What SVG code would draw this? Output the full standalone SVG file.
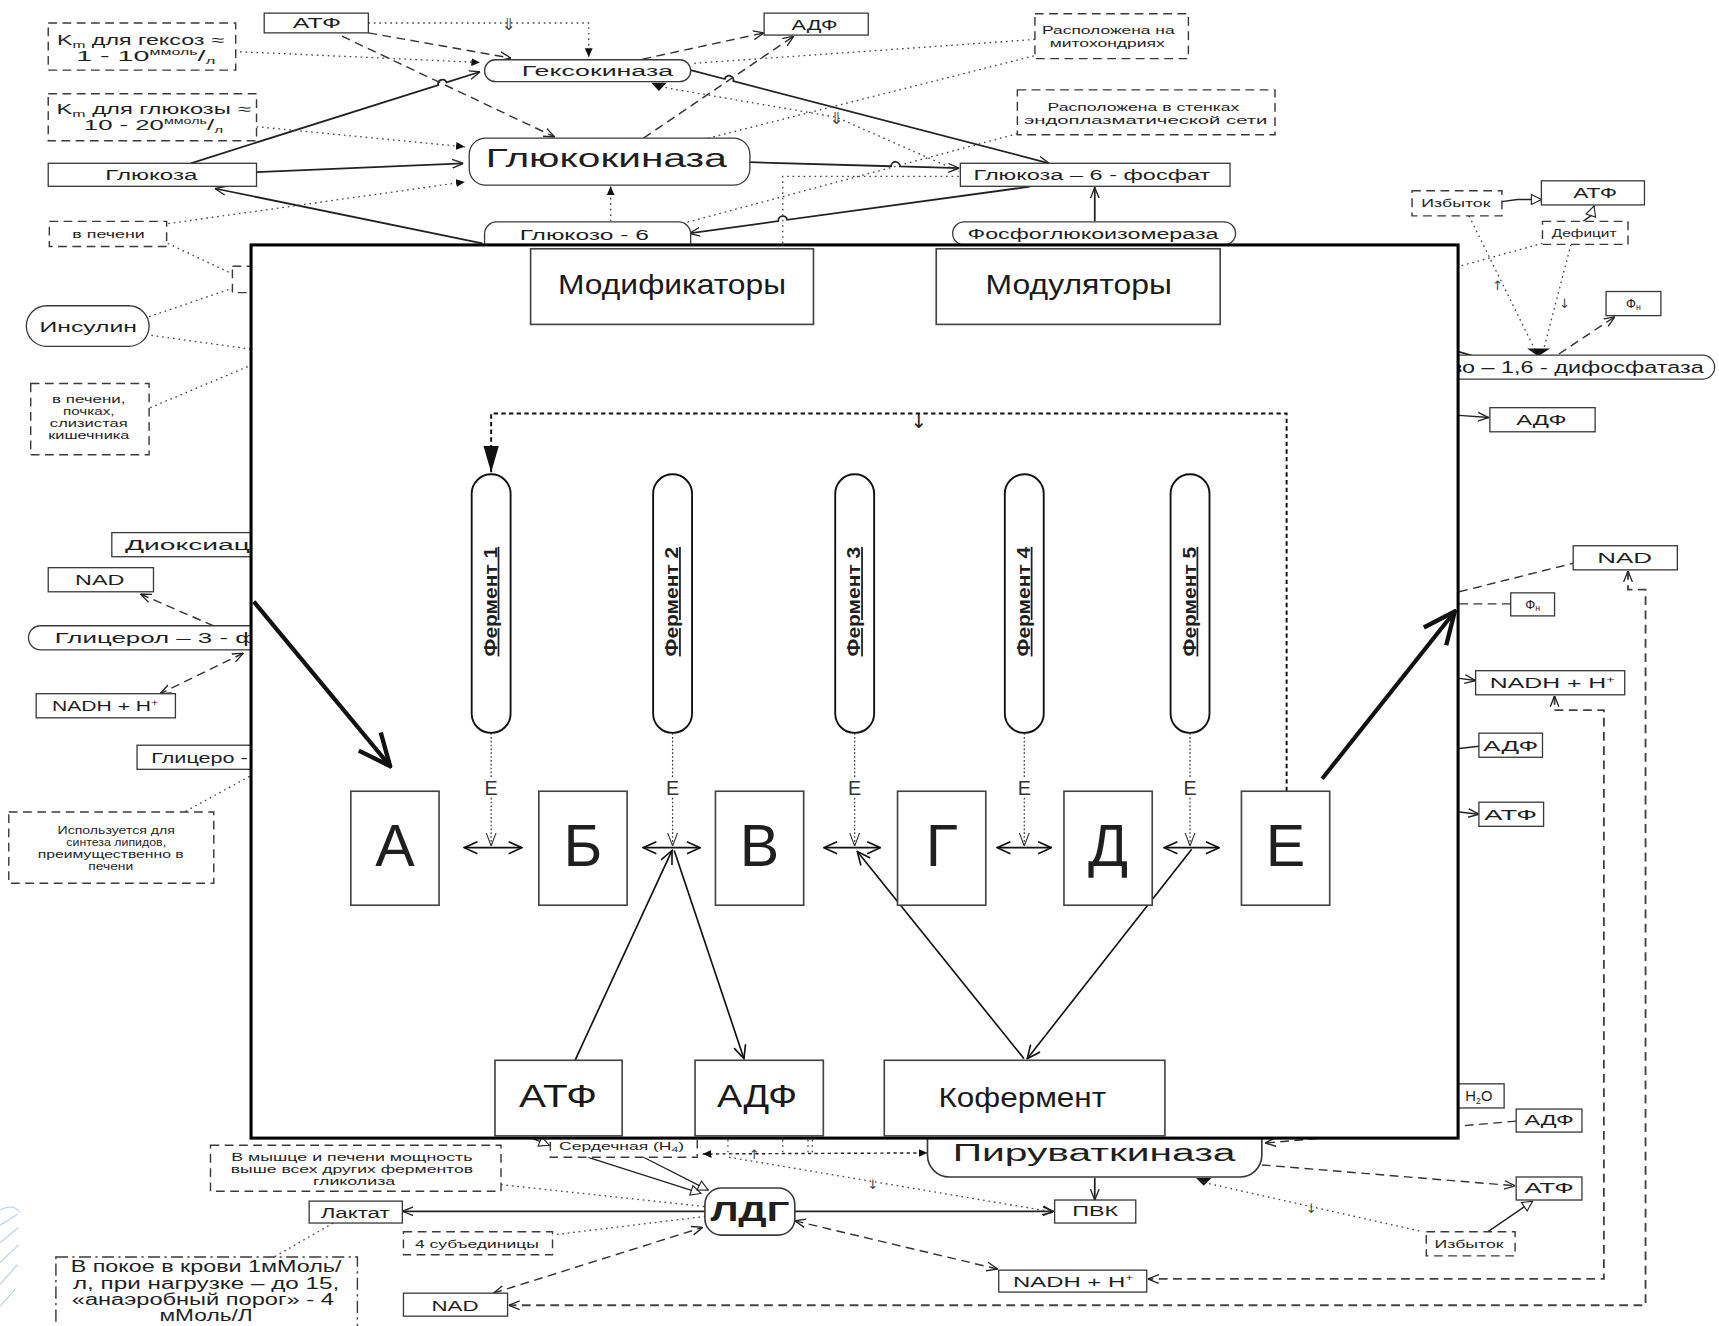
<svg xmlns="http://www.w3.org/2000/svg" width="1719" height="1326" viewBox="0 0 1719 1326">
<defs>
<style>
.b{fill:#fff;stroke:#3a3a3a;stroke-width:1.2}
.db{fill:#fff;stroke:#3a3a3a;stroke-width:1.3;stroke-dasharray:8 5}
.ddb{fill:#fff;stroke:#3a3a3a;stroke-width:1.3;stroke-dasharray:11 4 2 4}
.t{font-family:"Liberation Sans",Arial,sans-serif;fill:#1f1f1f;text-anchor:middle}
.ts{font-family:"Liberation Sans",Arial,sans-serif;fill:#1f1f1f;text-anchor:start}
.n{font-family:"Liberation Sans Narrow","Liberation Sans",Arial,sans-serif;fill:#1a1a1a;text-anchor:middle}
.ar{font-family:"DejaVu Sans",sans-serif;fill:#444;text-anchor:middle}
.s{fill:none;stroke:#222;stroke-width:1.6}
.d{fill:none;stroke:#333;stroke-width:1.3;stroke-dasharray:8 5}
.dl{fill:none;stroke:#444;stroke-width:1.7;stroke-dasharray:8 5}
.o{fill:none;stroke:#444;stroke-width:1.2;stroke-dasharray:1.5 3.5}
.ob{fill:#fff;stroke:#444;stroke-width:1.5}
.ol{fill:none;stroke:#111;stroke-width:1.5}
.od{fill:none;stroke:#333;stroke-width:1.1;stroke-dasharray:1.5 2}
.lp{fill:none;stroke:#111;stroke-width:1.8;stroke-dasharray:4 3}
.big{fill:none;stroke:#111;stroke-width:3.8}
</style>
<marker id="ao" viewBox="0 0 10 10" refX="10" refY="5" markerWidth="10" markerHeight="10" markerUnits="userSpaceOnUse" orient="auto-start-reverse"><path d="M0,1 L10,5 L0,9" fill="none" stroke="#222" stroke-width="1.2"/></marker>
<marker id="ao2" viewBox="0 0 14 14" refX="13" refY="7" markerWidth="14" markerHeight="14" markerUnits="userSpaceOnUse" orient="auto-start-reverse"><path d="M1,1.5 L13,7 L1,12.5" fill="none" stroke="#111" stroke-width="1.5"/></marker>
<marker id="aoS" viewBox="0 0 12 12" refX="12" refY="6" markerWidth="12" markerHeight="12" markerUnits="userSpaceOnUse" orient="auto"><path d="M0,1.5 L12,6 L0,10.5" fill="none" stroke="#333" stroke-width="1"/></marker>
<marker id="af" viewBox="0 0 10 10" refX="10" refY="5" markerWidth="8" markerHeight="8" markerUnits="userSpaceOnUse" orient="auto-start-reverse"><path d="M0,0.5 L10,5 L0,9.5Z" fill="#111"/></marker>
<marker id="afL" viewBox="0 0 24 14" refX="24" refY="7" markerWidth="24" markerHeight="14" markerUnits="userSpaceOnUse" orient="auto"><path d="M0,0 L24,7 L0,14Z" fill="#111"/></marker>
<marker id="ah" viewBox="0 0 12 12" refX="11" refY="6" markerWidth="11" markerHeight="11" markerUnits="userSpaceOnUse" orient="auto"><path d="M1,1 L11,6 L1,11Z" fill="#fff" stroke="#222" stroke-width="1.1"/></marker>
<marker id="big" viewBox="0 0 34 34" refX="32" refY="17" markerWidth="34" markerHeight="34" markerUnits="userSpaceOnUse" orient="auto"><path d="M3,4 L32,17 L3,30" fill="none" stroke="#111" stroke-width="4"/></marker>
</defs>
<rect width="1719" height="1326" fill="#fff"/>
<g transform="scale(1.0963 1.0959)">

<g id="decor" fill="none" stroke="#b9cfe3" stroke-width="1">
<path d="M0,1104 Q12,1098 18,1106"/>
<path d="M0,1118 L16,1108"/>
<path d="M0,1134 L17,1120"/>
<path d="M0,1152 L17,1136"/>
<path d="M0,1172 L16,1154"/>
<path d="M0,1192 L14,1176"/>
</g>

<g id="connectors">
<path class="s" d="M174,149 L399.7,77.6 A4,4 0 0 1 407.3,75.2 L438,65.5" marker-end="url(#ao)"/>
<path class="s" d="M234,157 L422.6,149" marker-end="url(#ao)"/>
<path class="s" d="M440,222 L196,172" marker-end="url(#ao)"/>
<path class="s" d="M630,64 L661.1,72.1 A4,4 0 0 1 668.9,74.1 L957,149" marker-end="url(#ao)"/>
<path class="s" d="M684,148 L812.8,151.7 A4,4 0 0 1 820.8,151.9 L875,153.5" marker-end="url(#ao)"/>
<path class="s" d="M939.3,170.3 L718,200.6 A4,4 0 0 0 710,201.7 L628.5,212.9" marker-end="url(#ao)"/>
<path class="s" d="M998.6,202 L998.6,171" marker-end="url(#ao)"/>
<path class="d" d="M336,30 L466,53" marker-end="url(#ao)"/>
<path class="d" d="M312,33 L506,125" marker-end="url(#ao)"/>
<path class="d" d="M586,54 L697,30" marker-end="url(#ao)"/>
<path class="d" d="M587,126 L724,33" marker-end="url(#ao)"/>
<path class="o" d="M336,21 L537,21 L537,52" marker-end="url(#af)"/>
<text class="ar" x="464" y="27" font-size="15">⇓</text>
<path class="o" d="M214,47 L438,57" marker-end="url(#af)"/>
<path class="o" d="M234,115.6 L424,134" marker-end="url(#af)"/>
<path class="o" d="M153.5,204 L424,166" marker-end="url(#af)"/>
<path class="o" d="M944,36 L630,58"/>
<path class="o" d="M943,51 L646,126"/>
<path class="o" d="M928,122 L626,203"/>
<polygon points="594,75.5 608,75.5 601,83" fill="#111"/>
<path class="o" d="M607,80 L763,107 L875,156.5"/>
<text class="ar" x="763" y="113" font-size="15">⇓</text>
<path class="o" d="M714,222 L714,161 L876,161"/>
<path class="o" d="M557,202 L557,170" marker-end="url(#af)"/>
<path class="o" d="M153,222 L212,250"/>
<path class="o" d="M136,289 L212,263"/>
<path class="o" d="M138,306 L232,319"/>
<path class="o" d="M137,372 L232,332"/>
<path class="o" d="M232,706 L168,741"/>
<path class="d" d="M128,542 L222,583" marker-start="url(#ao)" marker-end="url(#ao)"/>
<path class="d" d="M222,596 L146,633" marker-start="url(#ao)" marker-end="url(#ao)"/>
<path class="s" style="stroke-width:1.3" d="M1370,184 L1384,182 L1406,182" marker-end="url(#ah)"/>
<path class="s" style="stroke-width:1.3" d="M1444,202 L1451,197 L1454,188" marker-end="url(#ah)"/>
<path class="o" d="M1340,197 L1400,319"/>
<text class="ar" x="1366" y="265" font-size="12">↑</text>
<path class="o" d="M1433,223 L1408,319"/>
<text class="ar" x="1427" y="281" font-size="12">↓</text>
<polygon points="1393,318 1414,318 1403,325" fill="#111"/>
<path class="o" d="M1407,222 L1331,243"/>
<path class="d" d="M1422,323 L1473,289" marker-end="url(#ao)"/>
<path class="s" d="M1331,321 L1348,326"/>
<path class="s" style="stroke-width:1.3" d="M1331,379 L1358,381" marker-end="url(#ao)"/>
<path class="d" d="M1331,540 L1435,514"/>
<path class="d" d="M1331,551 L1378,551"/>
<path class="s" style="stroke-width:1.3" d="M1331,619 L1346,621" marker-end="url(#ao)"/>
<path class="s" style="stroke-width:1.3" d="M1331,683 L1349,681"/>
<path class="s" style="stroke-width:1.3" d="M1331,741 L1349,743" marker-end="url(#ao)"/>
<path class="dl" d="M1485,521 L1485,538 L1501,538 L1501,1191 L464,1191" marker-start="url(#ao)" marker-end="url(#ao)"/>
<path class="dl" d="M1418,635 L1418,648 L1463,648 L1463,1167 L1047,1167" marker-start="url(#ao)" marker-end="url(#ao)"/>
<path class="s" d="M998.6,1075 L998.6,1095" marker-end="url(#ao)"/>
<path class="s" d="M725,1105.3 L961,1105.3" marker-end="url(#ao)"/>
<path class="s" d="M643,1105.3 L367,1105.3" marker-end="url(#ao)"/>
<path class="d" d="M725,1114 L910,1158" marker-start="url(#ao)" marker-end="url(#ao)"/>
<path class="d" d="M450,1180 L641,1120" marker-start="url(#ao)" marker-end="url(#ao)"/>
<path class="s" style="stroke-width:1.2" d="M536.5,1056 L639.4,1089" marker-end="url(#ah)"/>
<path class="s" style="stroke-width:1.2" d="M587,1056 L646,1086" marker-end="url(#ah)"/>
<path class="s" style="stroke-width:1.2" d="M486,1039 L501,1045" marker-end="url(#ah)"/>
<path fill="none" stroke="#222" stroke-width="1.3" stroke-dasharray="3 3" d="M641,1053 L846,1052" marker-start="url(#af)" marker-end="url(#af)"/>
<text class="ar" x="688" y="1058" font-size="12">↑</text>
<path class="o" d="M664,1040 V1055 M714,1040 V1053 M737,1040 V1053 M741,1040 V1053"/>
<path class="o" d="M665,1056 L961,1106" marker-end="url(#ao)"/>
<text class="ar" x="796" y="1085" font-size="12">↓</text>
<path class="o" d="M457,1081 L643,1101"/>
<path class="o" d="M503,1127 L643,1110"/>
<path class="o" d="M304,1116 L250,1147"/>
<path class="d" d="M1151,1063 L1382,1082" marker-end="url(#ao)"/>
<path class="d" d="M1383,1023 L1154,1043" marker-end="url(#ao)"/>
<polygon points="1091,1075 1105,1075 1098,1082" fill="#111"/>
<path class="o" d="M1098,1079 L1298,1124"/>
<text class="ar" x="1196" y="1107" font-size="12">↓</text>
<path class="s" style="stroke-width:1.3" d="M1357,1124 L1398,1096" marker-end="url(#ah)"/>
</g>

<g id="n-atf1"><rect class="b" x="241" y="12" width="95" height="18"/><text class="t" x="289" y="26" font-size="13" textLength="44" lengthAdjust="spacingAndGlyphs">АТФ</text></g>
<g id="n-adf1"><rect class="b" x="697" y="12" width="95" height="20"/><text class="t" x="743" y="27" font-size="13" textLength="42" lengthAdjust="spacingAndGlyphs">АДФ</text></g>
<g id="n-km1"><rect class="db" x="44" y="21" width="171" height="43"/>
<text class="t" x="128" y="41" font-size="13.5" textLength="152" lengthAdjust="spacingAndGlyphs">K<tspan font-size="9" dy="3">m</tspan><tspan dy="-3"> для гексоз ≈</tspan></text>
<text class="t" x="133" y="56" font-size="13.5" textLength="127" lengthAdjust="spacingAndGlyphs">1 - 10<tspan font-size="7.5" dy="-6">ммоль</tspan><tspan dy="6">/</tspan><tspan font-size="8" dy="2">л</tspan></text></g>
<g id="n-hexokinase"><rect class="b" x="442" y="54.5" width="188" height="20" rx="10"/><text class="t" x="545" y="69" font-size="13.5" textLength="138" lengthAdjust="spacingAndGlyphs">Гексокиназа</text></g>
<g id="n-mito"><rect class="db" x="944" y="12.5" width="140" height="41"/><text class="t" x="1011" y="31" font-size="10" textLength="121" lengthAdjust="spacingAndGlyphs">Расположена на</text><text class="t" x="1010" y="42.5" font-size="10" textLength="105" lengthAdjust="spacingAndGlyphs">митохондриях</text></g>
<g id="n-km2"><rect class="db" x="44" y="85.5" width="190" height="43"/>
<text class="t" x="140" y="104" font-size="13.5" textLength="177" lengthAdjust="spacingAndGlyphs">K<tspan font-size="9" dy="3">m</tspan><tspan dy="-3"> для глюкозы ≈</tspan></text>
<text class="t" x="140" y="119" font-size="13.5" textLength="127" lengthAdjust="spacingAndGlyphs">10 - 20<tspan font-size="7.5" dy="-6">ммоль</tspan><tspan dy="6">/</tspan><tspan font-size="8" dy="2">л</tspan></text></g>
<g id="n-er"><rect class="db" x="928" y="82" width="235" height="41"/><text class="t" x="1043" y="101" font-size="10" textLength="175" lengthAdjust="spacingAndGlyphs">Расположена в стенках</text><text class="t" x="1045" y="113" font-size="10" textLength="222" lengthAdjust="spacingAndGlyphs">эндоплазматической сети</text></g>
<g id="n-glucokinase"><rect class="b" x="428" y="126" width="256" height="43" rx="15"/><text class="t" x="553" y="152.5" font-size="24" textLength="220" lengthAdjust="spacingAndGlyphs">Глюкокиназа</text></g>
<g id="n-glucose"><rect class="b" x="44" y="149" width="190" height="21"/><text class="t" x="138" y="164.5" font-size="13.5" textLength="84" lengthAdjust="spacingAndGlyphs">Глюкоза</text></g>
<g id="n-g6p"><rect class="b" x="876" y="149" width="246" height="21"/><text class="t" x="996" y="164.5" font-size="14" textLength="216" lengthAdjust="spacingAndGlyphs">Глюкоза – 6 - фосфат</text></g>
<g id="n-liver1"><rect class="db" x="45" y="202" width="107" height="23"/><text class="t" x="99" y="217" font-size="10" textLength="66" lengthAdjust="spacingAndGlyphs">в печени</text></g>
<g id="n-g6pase"><rect class="b" x="442" y="202.5" width="188" height="44" rx="11"/><text class="t" x="533" y="219" font-size="14" textLength="118" lengthAdjust="spacingAndGlyphs">Глюкозо -  6</text></g>
<g id="n-pgi"><rect class="b" x="869" y="202.5" width="258" height="21" rx="10.5"/><text class="t" x="997" y="218.5" font-size="14" textLength="229" lengthAdjust="spacingAndGlyphs">Фосфоглюкоизомераза</text></g>
<g id="n-smallbox"><rect class="db" x="212" y="243" width="40" height="24"/></g>
<g id="n-insulin"><rect class="b" x="24" y="279" width="112" height="37" rx="18.5"/><text class="t" x="80.5" y="303" font-size="14" textLength="89" lengthAdjust="spacingAndGlyphs">Инсулин</text></g>
<g id="n-organs"><rect class="db" x="28" y="350" width="108" height="65"/>
<text class="t" x="81" y="368" font-size="9.5" textLength="67" lengthAdjust="spacingAndGlyphs">в печени,</text>
<text class="t" x="81" y="379" font-size="9.5" textLength="47" lengthAdjust="spacingAndGlyphs">почках,</text>
<text class="t" x="81" y="390" font-size="9.5" textLength="71" lengthAdjust="spacingAndGlyphs">слизистая</text>
<text class="t" x="81" y="401" font-size="9.5" textLength="74" lengthAdjust="spacingAndGlyphs">кишечника</text></g>
<g id="n-dioxy"><rect class="b" x="102" y="486" width="150" height="22"/><text class="ts" x="114" y="502" font-size="14" textLength="114" lengthAdjust="spacingAndGlyphs">Диоксиац</text></g>
<g id="n-nad1"><rect class="b" x="44" y="518" width="96" height="22"/><text class="t" x="91" y="534" font-size="13.5" textLength="45" lengthAdjust="spacingAndGlyphs">NAD</text></g>
<g id="n-g3p"><rect class="b" x="26" y="571" width="226" height="22" rx="11"/><text class="ts" x="50" y="587" font-size="14" textLength="184" lengthAdjust="spacingAndGlyphs">Глицерол – 3 - ф</text></g>
<g id="n-nadh1"><rect class="b" x="33" y="633" width="127" height="22"/><text class="t" x="96" y="649" font-size="13.5" textLength="97" lengthAdjust="spacingAndGlyphs">NADH + H<tspan font-size="8" dy="-5">+</tspan></text></g>
<g id="n-glycero"><rect class="b" x="125" y="680" width="127" height="22"/><text class="ts" x="138" y="696" font-size="14" textLength="88" lengthAdjust="spacingAndGlyphs">Глицеро -</text></g>
<g id="n-lipids"><rect class="db" x="8" y="741" width="187" height="65"/>
<text class="t" x="106" y="761" font-size="10" textLength="107" lengthAdjust="spacingAndGlyphs">Используется для</text>
<text class="t" x="106" y="772" font-size="10" textLength="91" lengthAdjust="spacingAndGlyphs">синтеза липидов,</text>
<text class="t" x="101" y="783" font-size="10" textLength="133" lengthAdjust="spacingAndGlyphs">преимущественно в</text>
<text class="t" x="101" y="794" font-size="10" textLength="41" lengthAdjust="spacingAndGlyphs">печени</text></g>
<g id="n-excess1"><rect class="db" x="1288" y="174" width="82" height="23"/><text class="t" x="1328" y="189" font-size="10" textLength="63" lengthAdjust="spacingAndGlyphs">Избыток</text></g>
<g id="n-atf2"><rect class="b" x="1406" y="165" width="94" height="22"/><text class="t" x="1455" y="181" font-size="13.5" textLength="40" lengthAdjust="spacingAndGlyphs">АТФ</text></g>
<g id="n-deficit"><rect class="db" x="1407" y="202" width="78" height="21"/><text class="t" x="1445" y="216" font-size="10" textLength="59" lengthAdjust="spacingAndGlyphs">Дефицит</text></g>
<g id="n-fn1"><rect class="b" x="1465" y="266" width="50" height="22"/><text class="t" x="1490" y="281" font-size="12">Ф<tspan font-size="8" dy="2">н</tspan></text></g>
<g id="n-fbpase"><rect class="b" x="1290" y="324" width="274" height="22" rx="11"/><text class="ts" x="1324" y="340" font-size="14.5" textLength="230" lengthAdjust="spacingAndGlyphs">зо – 1,6 - дифосфатаза</text></g>
<g id="n-adf2"><rect class="b" x="1359" y="372" width="96" height="22"/><text class="t" x="1406" y="388" font-size="13.5" textLength="46" lengthAdjust="spacingAndGlyphs">АДФ</text></g>
<g id="n-nad2"><rect class="b" x="1435" y="498" width="95" height="22"/><text class="t" x="1482" y="514" font-size="13.5" textLength="50" lengthAdjust="spacingAndGlyphs">NAD</text></g>
<g id="n-fn2"><rect class="b" x="1378" y="541" width="40" height="21"/><text class="t" x="1398" y="556" font-size="12">Ф<tspan font-size="8" dy="2">н</tspan></text></g>
<g id="n-nadh2"><rect class="b" x="1346" y="612" width="136" height="22"/><text class="t" x="1416" y="628" font-size="13.5" textLength="114" lengthAdjust="spacingAndGlyphs">NADH + H<tspan font-size="8" dy="-5">+</tspan></text></g>
<g id="n-adf3"><rect class="b" x="1349" y="669" width="58" height="22"/><text class="t" x="1378" y="685" font-size="13.5" textLength="50" lengthAdjust="spacingAndGlyphs">АДФ</text></g>
<g id="n-atf3"><rect class="b" x="1349" y="732" width="59" height="22"/><text class="t" x="1378" y="748" font-size="13.5" textLength="48" lengthAdjust="spacingAndGlyphs">АТФ</text></g>
<g id="n-h2o"><rect class="b" x="1318" y="989" width="54" height="22"/><text class="t" x="1349" y="1005" font-size="13.5">H<tspan font-size="8" dy="2">2</tspan><tspan dy="-2">O</tspan></text></g>
<g id="n-adf4"><rect class="b" x="1383" y="1012" width="60" height="21"/><text class="t" x="1413" y="1027" font-size="13.5" textLength="45" lengthAdjust="spacingAndGlyphs">АДФ</text></g>
<g id="n-atf4"><rect class="b" x="1383" y="1074" width="60" height="21"/><text class="t" x="1413" y="1089" font-size="13.5" textLength="45" lengthAdjust="spacingAndGlyphs">АТФ</text></g>
<g id="n-excess2"><rect class="db" x="1301" y="1124" width="81" height="22"/><text class="t" x="1340" y="1139" font-size="10" textLength="63" lengthAdjust="spacingAndGlyphs">Избыток</text></g>
<g id="n-heart"><rect class="db" x="502" y="1018" width="134" height="38"/><text class="t" x="567" y="1049" font-size="10" textLength="114" lengthAdjust="spacingAndGlyphs">Сердечная (H<tspan font-size="7" dy="2">4</tspan><tspan dy="-2">)</tspan></text></g>
<g id="n-muscle"><rect class="db" x="192" y="1045" width="265" height="42"/>
<text class="t" x="321" y="1059" font-size="10.5" textLength="220" lengthAdjust="spacingAndGlyphs">В мышце и печени мощность</text>
<text class="t" x="321" y="1070" font-size="10.5" textLength="221" lengthAdjust="spacingAndGlyphs">выше всех других ферментов</text>
<text class="t" x="323" y="1081" font-size="10.5" textLength="75" lengthAdjust="spacingAndGlyphs">гликолиза</text></g>
<g id="n-lactate"><rect class="b" x="282" y="1096" width="85" height="20"/><text class="t" x="324" y="1111" font-size="13.5" textLength="63" lengthAdjust="spacingAndGlyphs">Лактат</text></g>
<g id="n-subunits"><rect class="db" x="368" y="1124" width="136" height="21"/><text class="t" x="435" y="1139" font-size="10" textLength="113" lengthAdjust="spacingAndGlyphs">4 субъединицы</text></g>
<g id="n-ldh"><rect class="b" x="643" y="1084" width="82" height="43" rx="15" style="stroke-width:1.5"/><text class="t" x="684" y="1114" font-size="25" font-weight="bold" textLength="72" lengthAdjust="spacingAndGlyphs">ЛДГ</text></g>
<g id="n-pvk"><rect class="b" x="962" y="1095" width="74" height="21"/><text class="t" x="999" y="1110" font-size="13" textLength="42" lengthAdjust="spacingAndGlyphs">ПВК</text></g>
<g id="n-pk"><rect class="b" x="846" y="1005" width="305" height="69" rx="20" style="stroke-width:1.5"/><text class="t" x="998" y="1059" font-size="21" textLength="258" lengthAdjust="spacingAndGlyphs">Пируваткиназа</text></g>
<g id="n-nadh3"><rect class="b" x="911" y="1159" width="135" height="20"/><text class="t" x="979" y="1174" font-size="13.5" textLength="110" lengthAdjust="spacingAndGlyphs">NADH + H<tspan font-size="8" dy="-5">+</tspan></text></g>
<g id="n-nad3"><rect class="b" x="368" y="1180" width="95" height="21"/><text class="t" x="415" y="1196" font-size="13.5" textLength="43" lengthAdjust="spacingAndGlyphs">NAD</text></g>
<g id="n-rest"><rect class="ddb" x="51" y="1147" width="275" height="80"/>
<text class="t" x="188" y="1161" font-size="15" textLength="247" lengthAdjust="spacingAndGlyphs">В покое в крови 1мМоль/</text>
<text class="t" x="188" y="1176" font-size="15" textLength="243" lengthAdjust="spacingAndGlyphs">л, при нагрузке – до 15,</text>
<text class="t" x="185" y="1190.5" font-size="15" textLength="239" lengthAdjust="spacingAndGlyphs">«анаэробный порог» -  4</text>
<text class="t" x="188" y="1205" font-size="15" textLength="85" lengthAdjust="spacingAndGlyphs">мМоль/Л</text></g>

<g id="panel"><rect x="229" y="223.5" width="1101" height="815" fill="#fff" stroke="#000" stroke-width="2.8"/></g>

<g id="panel-connectors">
<path class="lp" d="M1173.6,722 V377.3 H448 V431" marker-end="url(#afL)"/>
<text class="ar" x="838" y="391" font-size="18" style="fill:#222">↓</text>
<path class="od" d="M448,669 V709 M448,728 V772" marker-end="url(#aoS)"/>
<path class="od" d="M613.5,669 V709 M613.5,728 V772" marker-end="url(#aoS)"/>
<path class="od" d="M779.6,669 V709 M779.6,728 V772" marker-end="url(#aoS)"/>
<path class="od" d="M934.3,669 V709 M934.3,728 V772" marker-end="url(#aoS)"/>
<path class="od" d="M1085.5,669 V709 M1085.5,728 V772" marker-end="url(#aoS)"/>
<text class="t" x="448" y="725" font-size="18" style="fill:#333">E</text>
<text class="t" x="613.5" y="725" font-size="18" style="fill:#333">E</text>
<text class="t" x="779.6" y="725" font-size="18" style="fill:#333">E</text>
<text class="t" x="934.3" y="725" font-size="18" style="fill:#333">E</text>
<text class="t" x="1085.5" y="725" font-size="18" style="fill:#333">E</text>
<path class="ol" d="M423.5,773.5 H476" marker-start="url(#ao2)" marker-end="url(#ao2)"/>
<path class="ol" d="M586.7,773.5 H638.6" marker-start="url(#ao2)" marker-end="url(#ao2)"/>
<path class="ol" d="M751.6,773.5 H803" marker-start="url(#ao2)" marker-end="url(#ao2)"/>
<path class="ol" d="M909.6,773.5 H959" marker-start="url(#ao2)" marker-end="url(#ao2)"/>
<path class="ol" d="M1062,773.5 H1112" marker-start="url(#ao2)" marker-end="url(#ao2)"/>
<path class="ol" d="M524.5,967.5 L613,776" marker-end="url(#ao2)"/>
<path class="ol" d="M615,776 L678.6,966" marker-end="url(#ao2)"/>
<path class="ol" d="M934,966 L782,777" marker-end="url(#ao2)"/>
<path class="ol" d="M1087,775 L937,966" marker-end="url(#ao2)"/>
<path class="big" d="M231.5,549 L355.8,699" marker-end="url(#big)"/>
<path class="big" d="M1206,710.6 L1327,558" marker-end="url(#big)"/>
</g>

<g id="p-modifiers"><rect class="ob" x="484" y="227" width="258" height="69"/><text class="n" x="613" y="268" font-size="25" textLength="208" lengthAdjust="spacingAndGlyphs">Модификаторы</text></g>
<g id="p-modulators"><rect class="ob" x="854" y="227" width="259" height="69"/><text class="n" x="984" y="268" font-size="25" textLength="170" lengthAdjust="spacingAndGlyphs">Модуляторы</text></g>

<g id="p-enz1"><rect x="430.25" y="432.8" width="35.5" height="236" rx="17.75" fill="#fff" stroke="#111" stroke-width="1.7"/><text class="t" transform="translate(453,549) rotate(-90)" font-size="16" font-weight="bold" text-decoration="underline" textLength="100" lengthAdjust="spacingAndGlyphs">Фермент 1</text></g>
<g id="p-enz2"><rect x="595.75" y="432.8" width="35.5" height="236" rx="17.75" fill="#fff" stroke="#111" stroke-width="1.7"/><text class="t" transform="translate(618.5,549) rotate(-90)" font-size="16" font-weight="bold" text-decoration="underline" textLength="100" lengthAdjust="spacingAndGlyphs">Фермент 2</text></g>
<g id="p-enz3"><rect x="761.85" y="432.8" width="35.5" height="236" rx="17.75" fill="#fff" stroke="#111" stroke-width="1.7"/><text class="t" transform="translate(784.6,549) rotate(-90)" font-size="16" font-weight="bold" text-decoration="underline" textLength="100" lengthAdjust="spacingAndGlyphs">Фермент 3</text></g>
<g id="p-enz4"><rect x="916.55" y="432.8" width="35.5" height="236" rx="17.75" fill="#fff" stroke="#111" stroke-width="1.7"/><text class="t" transform="translate(939.3,549) rotate(-90)" font-size="16" font-weight="bold" text-decoration="underline" textLength="100" lengthAdjust="spacingAndGlyphs">Фермент 4</text></g>
<g id="p-enz5"><rect x="1067.75" y="432.8" width="35.5" height="236" rx="17.75" fill="#fff" stroke="#111" stroke-width="1.7"/><text class="t" transform="translate(1090.5,549) rotate(-90)" font-size="16" font-weight="bold" text-decoration="underline" textLength="100" lengthAdjust="spacingAndGlyphs">Фермент 5</text></g>

<g id="p-A"><rect class="ob" x="320" y="722" width="80.5" height="104"/><text class="t" x="360.2" y="790" font-size="54">А</text></g>
<g id="p-B"><rect class="ob" x="491.5" y="722" width="80.5" height="104"/><text class="t" x="531.8" y="790" font-size="54">Б</text></g>
<g id="p-V"><rect class="ob" x="652.6" y="722" width="80.5" height="104"/><text class="t" x="692.8" y="790" font-size="54">В</text></g>
<g id="p-G"><rect class="ob" x="818.7" y="722" width="80.5" height="104"/><text class="t" x="859" y="790" font-size="54">Г</text></g>
<g id="p-D"><rect class="ob" x="970.5" y="722" width="80.5" height="104"/><text class="t" x="1010.8" y="790" font-size="54">Д</text></g>
<g id="p-E"><rect class="ob" x="1132.4" y="722" width="80.5" height="104"/><text class="t" x="1172.6" y="790" font-size="54">Е</text></g>

<g id="p-atf"><rect class="ob" x="451.5" y="967.5" width="116" height="69"/><text class="n" x="509" y="1010.5" font-size="28" textLength="71" lengthAdjust="spacingAndGlyphs">АТФ</text></g>
<g id="p-adf"><rect class="ob" x="634" y="967.5" width="117" height="69"/><text class="n" x="690.5" y="1010.5" font-size="28" textLength="73" lengthAdjust="spacingAndGlyphs">АДФ</text></g>
<g id="p-coenzyme"><rect class="ob" x="806.6" y="967.5" width="256" height="69"/><text class="n" x="932.5" y="1010" font-size="26" textLength="153" lengthAdjust="spacingAndGlyphs">Кофермент</text></g>
</g>
</svg>
